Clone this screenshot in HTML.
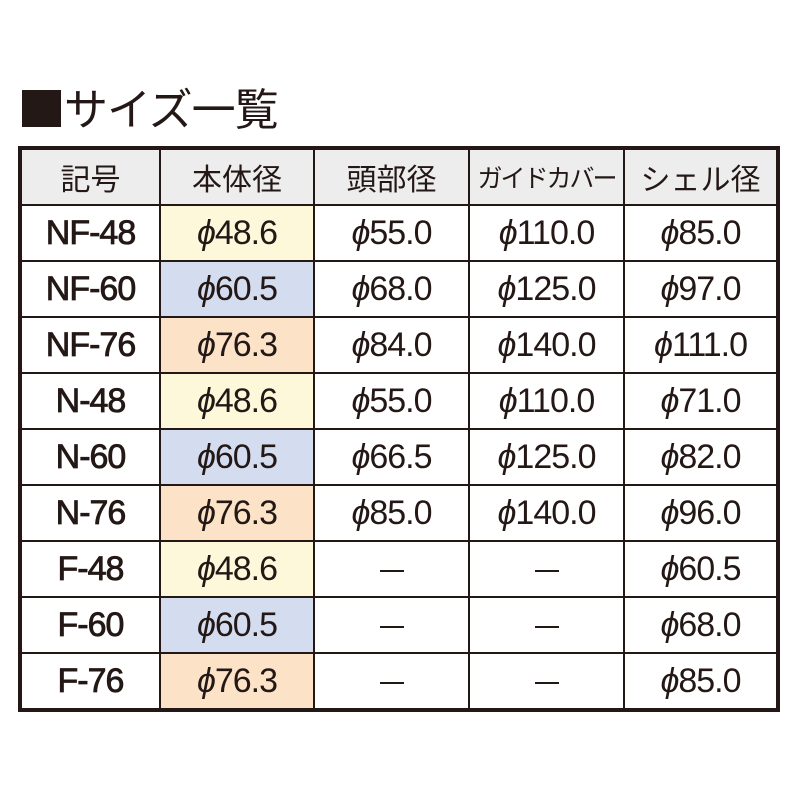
<!DOCTYPE html>
<html><head><meta charset="utf-8"><style>
body{margin:0;width:800px;height:800px;background:#fff;position:relative;font-family:"Liberation Sans","Noto Sans CJK JP",sans-serif;color:#231815;overflow:hidden}
.sq{position:absolute;left:22px;top:90px;width:39px;height:37px;background:#231815}
.title{position:absolute;left:64px;top:78px;font-size:44px;line-height:56px;font-family:"Noto Sans CJK JP",sans-serif;letter-spacing:-1px}
table{position:absolute;left:18px;top:146px;border-collapse:collapse;border:4px solid #231815;width:762px}
td{border:2px solid #231815;height:54px;box-sizing:border-box;text-align:center;font-size:34px;padding:0;line-height:54px;letter-spacing:-1px}
tr{height:56px}
tr.h{height:55px}
tr.h td{background:#ededed;font-family:"Noto Sans CJK JP",sans-serif;font-size:30px;letter-spacing:0;font-weight:normal;-webkit-text-stroke:0}
.y{background:#fdf8d9}.b{background:#d3ddef}.o{background:#fce3c8}
td:first-child{letter-spacing:-1px;font-size:34px;-webkit-text-stroke:0.8px #231815}
.phi{font-style:italic;font-weight:normal}
.d{display:inline-block;width:24px;height:2px;background:#231815;vertical-align:middle}
</style></head><body>
<div class="sq"></div><div class="title">サイズ一覧</div>
<table>
<colgroup><col style="width:140px"><col style="width:154px"><col style="width:155px"><col style="width:155px"><col></colgroup>
<tr class="h"><td>記号</td><td>本体径</td><td>頭部径</td><td style="font-size:25px;letter-spacing:-2px">ガイドカバー</td><td>シェル径</td></tr>
<tr><td>NF-48</td><td class="y"><span class="phi">ϕ</span>48.6</td><td><span class="phi">ϕ</span>55.0</td><td><span class="phi">ϕ</span>110.0</td><td><span class="phi">ϕ</span>85.0</td></tr>
<tr><td>NF-60</td><td class="b"><span class="phi">ϕ</span>60.5</td><td><span class="phi">ϕ</span>68.0</td><td><span class="phi">ϕ</span>125.0</td><td><span class="phi">ϕ</span>97.0</td></tr>
<tr><td>NF-76</td><td class="o"><span class="phi">ϕ</span>76.3</td><td><span class="phi">ϕ</span>84.0</td><td><span class="phi">ϕ</span>140.0</td><td><span class="phi">ϕ</span>111.0</td></tr>
<tr><td>N-48</td><td class="y"><span class="phi">ϕ</span>48.6</td><td><span class="phi">ϕ</span>55.0</td><td><span class="phi">ϕ</span>110.0</td><td><span class="phi">ϕ</span>71.0</td></tr>
<tr><td>N-60</td><td class="b"><span class="phi">ϕ</span>60.5</td><td><span class="phi">ϕ</span>66.5</td><td><span class="phi">ϕ</span>125.0</td><td><span class="phi">ϕ</span>82.0</td></tr>
<tr><td>N-76</td><td class="o"><span class="phi">ϕ</span>76.3</td><td><span class="phi">ϕ</span>85.0</td><td><span class="phi">ϕ</span>140.0</td><td><span class="phi">ϕ</span>96.0</td></tr>
<tr><td>F-48</td><td class="y"><span class="phi">ϕ</span>48.6</td><td><span class="d"></span></td><td><span class="d"></span></td><td><span class="phi">ϕ</span>60.5</td></tr>
<tr><td>F-60</td><td class="b"><span class="phi">ϕ</span>60.5</td><td><span class="d"></span></td><td><span class="d"></span></td><td><span class="phi">ϕ</span>68.0</td></tr>
<tr><td>F-76</td><td class="o"><span class="phi">ϕ</span>76.3</td><td><span class="d"></span></td><td><span class="d"></span></td><td><span class="phi">ϕ</span>85.0</td></tr>
</table>
</body></html>
